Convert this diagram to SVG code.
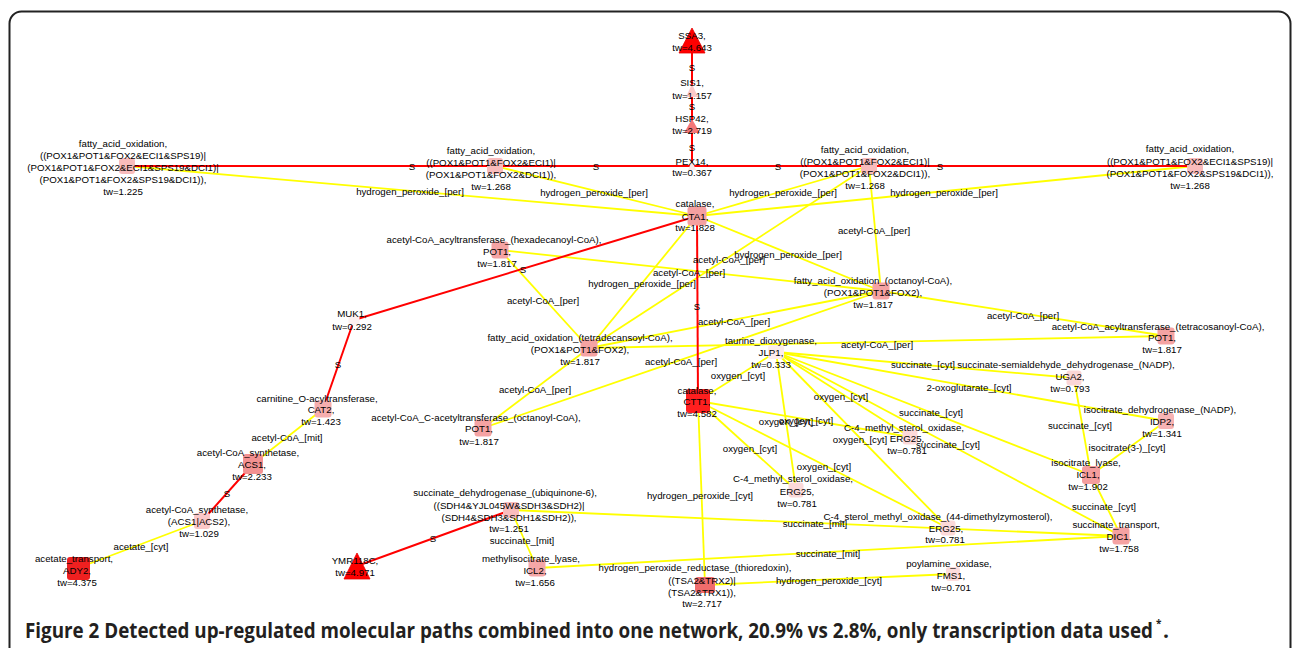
<svg xmlns="http://www.w3.org/2000/svg" width="1292" height="648" viewBox="0 0 1292 648">
<style>
.l{font-family:"Liberation Sans",Arial,sans-serif;font-size:9.7px;fill:#000;text-anchor:middle}
.ey{stroke:#ffff00;stroke-width:1.8;fill:none}
.er{stroke:#ff0000;stroke-width:2;fill:none}
.cap{font-family:"Open Sans","Noto Sans",sans-serif;font-weight:700;font-size:21px;fill:#231f20}
.sup{font-family:"Open Sans","Noto Sans",sans-serif;font-weight:700;font-size:10px;fill:#231f20}
</style>
<rect x="9.5" y="11.5" width="1281" height="720" rx="12" fill="#fff" stroke="#222" stroke-width="2"/>
<g id="connectors">
<g class="ey">
<line x1="127" y1="166" x2="697" y2="216"/>
<line x1="495" y1="166" x2="697" y2="216"/>
<line x1="697" y1="216" x2="869" y2="166"/>
<line x1="697" y1="216" x2="1195" y2="166"/>
<line x1="869" y1="166" x2="881" y2="291"/>
<line x1="697" y1="216" x2="881" y2="291"/>
<line x1="869" y1="166" x2="589" y2="348"/>
<line x1="500" y1="250" x2="881" y2="291"/>
<line x1="697" y1="216" x2="589" y2="348"/>
<line x1="500" y1="250" x2="589" y2="348"/>
<line x1="589" y1="348" x2="881" y2="291"/>
<line x1="881" y1="291" x2="1166" y2="336"/>
<line x1="589" y1="348" x2="1166" y2="336"/>
<line x1="483" y1="428" x2="881" y2="291"/>
<line x1="483" y1="428" x2="589" y2="348"/>
<line x1="698" y1="401" x2="776" y2="352"/>
<line x1="776" y1="352" x2="1074" y2="378"/>
<line x1="776" y1="352" x2="1166" y2="421"/>
<line x1="776" y1="352" x2="910" y2="437"/>
<line x1="776" y1="352" x2="1091" y2="475"/>
<line x1="776" y1="352" x2="796" y2="490"/>
<line x1="698" y1="401" x2="910" y2="437"/>
<line x1="776" y1="352" x2="948" y2="528"/>
<line x1="776" y1="352" x2="1121" y2="536"/>
<line x1="698" y1="401" x2="796" y2="490"/>
<line x1="698" y1="401" x2="948" y2="528"/>
<line x1="1074" y1="378" x2="1091" y2="475"/>
<line x1="1166" y1="421" x2="1091" y2="475"/>
<line x1="1091" y1="475" x2="1121" y2="536"/>
<line x1="698" y1="401" x2="705" y2="585"/>
<line x1="511" y1="510" x2="1121" y2="536"/>
<line x1="511" y1="510" x2="537" y2="568"/>
<line x1="537" y1="568" x2="1121" y2="536"/>
<line x1="705" y1="585" x2="953" y2="574"/>
<line x1="323" y1="409" x2="253" y2="464"/>
<line x1="202" y1="521" x2="78" y2="568"/>
</g>
<g class="er">
<line x1="127" y1="166" x2="692" y2="166"/>
<line x1="495" y1="166" x2="692" y2="166"/>
<line x1="692" y1="166" x2="869" y2="166"/>
<line x1="692" y1="166" x2="1195" y2="166"/>
<line x1="692" y1="41" x2="692" y2="90"/>
<line x1="692" y1="90" x2="692" y2="126"/>
<line x1="692" y1="126" x2="692" y2="166"/>
<line x1="697" y1="216" x2="698" y2="401"/>
<line x1="697" y1="216" x2="354" y2="320"/>
<line x1="354" y1="320" x2="323" y2="409"/>
<line x1="253" y1="464" x2="202" y2="521"/>
<line x1="357" y1="566" x2="511" y2="510"/>
</g>
<g class="l">
<text x="412" y="169.5">S</text><text x="596" y="169.5">S</text><text x="778" y="169.5">S</text><text x="940" y="169.5">S</text>
<text x="692" y="70.5">S</text><text x="692" y="109.5">S</text><text x="692" y="150.5">S</text>
<text x="697" y="309.5">S</text><text x="523" y="272.5">S</text><text x="338" y="367.5">S</text>
<text x="227" y="496.5">S</text><text x="433" y="541.5">S</text>
<text x="410" y="194.5">hydrogen_peroxide_[per]</text>
<text x="594" y="195.5">hydrogen_peroxide_[per]</text>
<text x="783" y="195.5">hydrogen_peroxide_[per]</text>
<text x="944" y="195.5">hydrogen_peroxide_[per]</text>
<text x="874" y="233.5">acetyl-CoA_[per]</text>
<text x="788" y="257.5">hydrogen_peroxide_[per]</text>
<text x="729" y="262.5">acetyl-CoA_[per]</text>
<text x="689" y="275.5">acetyl-CoA_[per]</text>
<text x="642" y="286.5">hydrogen_peroxide_[per]</text>
<text x="543" y="303.5">acetyl-CoA_[per]</text>
<text x="734" y="324.5">acetyl-CoA_[per]</text>
<text x="1023" y="318.5">acetyl-CoA_[per]</text>
<text x="877" y="347.5">acetyl-CoA_[per]</text>
<text x="681" y="364.5">acetyl-CoA_[per]</text>
<text x="535" y="392.5">acetyl-CoA_[per]</text>
<text x="738" y="378.5">oxygen_[cyt]</text>
<text x="923" y="367.5">succinate_[cyt]</text>
<text x="969" y="390.5">2-oxoglutarate_[cyt]</text>
<text x="841" y="399.5">oxygen_[cyt]</text>
<text x="931" y="415.5">succinate_[cyt]</text>
<text x="786" y="424.5">oxygen_[cyt]</text>
<text x="806" y="423.5">oxygen_[cyt]</text>
<text x="860" y="442.5">oxygen_[cyt]</text>
<text x="948" y="447.5">succinate_[cyt]</text>
<text x="750" y="451.5">oxygen_[cyt]</text>
<text x="824" y="469.5">oxygen_[cyt]</text>
<text x="1080" y="428.5">succinate_[cyt]</text>
<text x="1127" y="450.5">isocitrate(3-)_[cyt]</text>
<text x="1104" y="509.5">succinate_[cyt]</text>
<text x="700" y="498.5">hydrogen_peroxide_[cyt]</text>
<text x="815" y="526.5">succinate_[mit]</text>
<text x="522" y="543.5">succinate_[mit]</text>
<text x="828" y="556.5">succinate_[mit]</text>
<text x="829" y="583.5">hydrogen_peroxide_[cyt]</text>
<text x="287" y="440.5">acetyl-CoA_[mit]</text>
<text x="141" y="549.5">acetate_[cyt]</text>
</g>
</g>
<g id="n_fao1"><rect x="119" y="158" width="16" height="16" rx="3" fill="#f9bcbc"/><text class="l"><tspan x="123" y="146.5">fatty_acid_oxidation,</tspan><tspan x="123" y="158.5">((POX1&amp;POT1&amp;FOX2&amp;ECI1&amp;SPS19)|</tspan><tspan x="123" y="170.5">(POX1&amp;POT1&amp;FOX2&amp;ECI1&amp;SPS19&amp;DCI1)|</tspan><tspan x="123" y="182.5">(POX1&amp;POT1&amp;FOX2&amp;SPS19&amp;DCI1)),</tspan><tspan x="123" y="194.5">tw=1.225</tspan></text></g>
<g id="n_fao2"><rect x="487" y="158" width="16" height="16" rx="3" fill="#f9bcbc"/><text class="l"><tspan x="491" y="153.5">fatty_acid_oxidation,</tspan><tspan x="491" y="165.5">((POX1&amp;POT1&amp;FOX2&amp;ECI1)|</tspan><tspan x="491" y="177.5">(POX1&amp;POT1&amp;FOX2&amp;DCI1)),</tspan><tspan x="491" y="189.5">tw=1.268</tspan></text></g>
<g id="n_fao4"><rect x="861" y="158" width="16" height="16" rx="3" fill="#f9bcbc"/><text class="l"><tspan x="865" y="153">fatty_acid_oxidation,</tspan><tspan x="865" y="165">((POX1&amp;POT1&amp;FOX2&amp;ECI1)|</tspan><tspan x="865" y="177">(POX1&amp;POT1&amp;FOX2&amp;DCI1)),</tspan><tspan x="865" y="189">tw=1.268</tspan></text></g>
<g id="n_fao5"><rect x="1187" y="158" width="16" height="16" rx="3" fill="#f9bcbc"/><text class="l"><tspan x="1190" y="152">fatty_acid_oxidation,</tspan><tspan x="1190" y="164.5">((POX1&amp;POT1&amp;FOX2&amp;ECI1&amp;SPS19)|</tspan><tspan x="1190" y="176.5">(POX1&amp;POT1&amp;FOX2&amp;SPS19&amp;DCI1)),</tspan><tspan x="1190" y="188.5">tw=1.268</tspan></text></g>
<g id="n_ssa3"><polygon points="692,28 679,53 705,53" fill="#ff0000" stroke="#e60000" stroke-width="0.8"/><text class="l"><tspan x="692" y="38.5">SSA3,</tspan><tspan x="692" y="50.5">tw=4.643</tspan></text></g>
<g id="n_sis1"><polygon points="692,84 686,97 698,97" fill="#fbc9c9"/><text class="l"><tspan x="692" y="85.5">SIS1,</tspan><tspan x="692" y="98.5">tw=1.157</tspan></text></g>
<g id="n_hsp42"><polygon points="692,119 684,133 700,133" fill="#f47777"/><text class="l"><tspan x="692" y="121.5">HSP42,</tspan><tspan x="692" y="133.5">tw=2.719</tspan></text></g>
<g id="n_pex14"><polygon points="692,161 688,170 696,170" fill="#fde8e8"/><text class="l"><tspan x="692" y="164.5">PEX14,</tspan><tspan x="692" y="175.5">tw=0.367</tspan></text></g>
<g id="n_cta1"><rect x="687.5" y="206.5" width="19" height="19" rx="3" fill="#f5a0a0"/><text class="l"><tspan x="695" y="207">catalase,</tspan><tspan x="695" y="219.5">CTA1,</tspan><tspan x="695" y="231">tw=1.828</tspan></text></g>
<g id="n_pot1_hexa"><rect x="491.5" y="241.5" width="17" height="17" rx="3" fill="#f5a3a3"/><text class="l"><tspan x="494" y="242.5">acetyl-CoA_acyltransferase_(hexadecanoyl-CoA),</tspan><tspan x="497" y="254.5">POT1,</tspan><tspan x="497" y="266.5">tw=1.817</tspan></text></g>
<g id="n_fao_oct"><rect x="872.5" y="282.5" width="17" height="17" rx="3" fill="#f5a3a3"/><text class="l"><tspan x="873" y="283.5">fatty_acid_oxidation_(octanoyl-CoA),</tspan><tspan x="873" y="295.5">(POX1&amp;POT1&amp;FOX2),</tspan><tspan x="873" y="307.5">tw=1.817</tspan></text></g>
<g id="n_muk1"><rect x="348.5" y="314.5" width="11" height="11" rx="4" fill="#fdf0f0"/><text class="l"><tspan x="352" y="317">MUK1,</tspan><tspan x="352" y="329.5">tw=0.292</tspan></text></g>
<g id="n_fao_tetra"><rect x="580.5" y="339.5" width="17" height="17" rx="3" fill="#f5a3a3"/><text class="l"><tspan x="580" y="340.5">fatty_acid_oxidation_(tetradecansoyl-CoA),</tspan><tspan x="580" y="352.5">(POX1&amp;POT1&amp;FOX2),</tspan><tspan x="580" y="364.5">tw=1.817</tspan></text></g>
<g id="n_pot1_tetracos"><rect x="1157.5" y="327.5" width="17" height="17" rx="3" fill="#f5a3a3"/><text class="l"><tspan x="1158" y="329.5">acetyl-CoA_acyltransferase_(tetracosanoyl-CoA),</tspan><tspan x="1162" y="341">POT1,</tspan><tspan x="1162" y="353">tw=1.817</tspan></text></g>
<g id="n_jlp1"><rect x="768" y="345" width="16" height="14" rx="3" fill="#fcecec"/><text class="l"><tspan x="771" y="343.5">taurine_dioxygenase,</tspan><tspan x="771" y="355.5">JLP1,</tspan><tspan x="771" y="367.5">tw=0.333</tspan></text></g>
<g id="n_uga2"><rect x="1066.5" y="370.5" width="15" height="15" rx="3" fill="#fbd6d6"/><text class="l"><tspan x="1066" y="367.5">succinate-semialdehyde_dehydrogenase_(NADP),</tspan><tspan x="1070" y="379.5">UGA2,</tspan><tspan x="1070" y="391.5">tw=0.793</tspan></text></g>
<g id="n_ctt1"><rect x="686" y="389" width="24" height="24" rx="3" fill="#ff1f1f"/><text class="l"><tspan x="697" y="393.5">catalase,</tspan><tspan x="697" y="404.5">CTT1,</tspan><tspan x="697" y="416.5">tw=4.582</tspan></text></g>
<g id="n_cat2"><rect x="314.5" y="400.5" width="17" height="17" rx="3" fill="#f6aeae"/><text class="l"><tspan x="317" y="401.5">carnitine_O-acyltransferase,</tspan><tspan x="321" y="413">CAT2,</tspan><tspan x="321" y="425">tw=1.423</tspan></text></g>
<g id="n_pot1_oct"><rect x="474.5" y="419.5" width="17" height="17" rx="3" fill="#f5a3a3"/><text class="l"><tspan x="476" y="420.5">acetyl-CoA_C-acetyltransferase_(octanoyl-CoA),</tspan><tspan x="479" y="432">POT1,</tspan><tspan x="479" y="444.5">tw=1.817</tspan></text></g>
<g id="n_idp2"><rect x="1158" y="413" width="16" height="16" rx="3" fill="#f7b4b4"/><text class="l"><tspan x="1160" y="412.5">isocitrate_dehydrogenase_(NADP),</tspan><tspan x="1162" y="424.5">IDP2,</tspan><tspan x="1162" y="436.5">tw=1.341</tspan></text></g>
<g id="n_erg25a"><rect x="902.5" y="429.5" width="15" height="15" rx="3" fill="#fcd9d9"/><text class="l"><tspan x="904" y="430.5">C-4_methyl_sterol_oxidase,</tspan><tspan x="907" y="441.5">ERG25,</tspan><tspan x="907" y="453.5">tw=0.781</tspan></text></g>
<g id="n_acs1"><rect x="243" y="454" width="20" height="20" rx="3" fill="#f39191"/><text class="l"><tspan x="248" y="455.5">acetyl-CoA_synthetase,</tspan><tspan x="252" y="467.5">ACS1,</tspan><tspan x="252" y="479.5">tw=2.233</tspan></text></g>
<g id="n_icl1"><rect x="1082" y="466" width="18" height="18" rx="3" fill="#f59d9d"/><text class="l"><tspan x="1086" y="465.5">isocitrate_lyase,</tspan><tspan x="1088" y="477.5">ICL1,</tspan><tspan x="1088" y="489.5">tw=1.902</tspan></text></g>
<g id="n_erg25b"><rect x="788.5" y="482.5" width="15" height="15" rx="3" fill="#fcd9d9"/><text class="l"><tspan x="793" y="482">C-4_methyl_sterol_oxidase,</tspan><tspan x="797" y="494.5">ERG25,</tspan><tspan x="797" y="506.5">tw=0.781</tspan></text></g>
<g id="n_sdh"><rect x="503" y="502" width="16" height="16" rx="3" fill="#f9bcbc"/><text class="l"><tspan x="505" y="495.5">succinate_dehydrogenase_(ubiquinone-6),</tspan><tspan x="509" y="508.5">((SDH4&amp;YJL045W&amp;SDH3&amp;SDH2)|</tspan><tspan x="509" y="520.5">(SDH4&amp;SDH3&amp;SDH1&amp;SDH2)),</tspan><tspan x="509" y="531.5">tw=1.251</tspan></text></g>
<g id="n_acs"><rect x="194" y="513" width="16" height="16" rx="3" fill="#fbc8c8"/><text class="l"><tspan x="197" y="512.5">acetyl-CoA_synthetase,</tspan><tspan x="199" y="524.5">(ACS1|ACS2),</tspan><tspan x="199" y="536.5">tw=1.029</tspan></text></g>
<g id="n_erg25c"><rect x="940.5" y="520.5" width="15" height="15" rx="3" fill="#fcd9d9"/><text class="l"><tspan x="938" y="519.5">C-4_sterol_methyl_oxidase_(44-dimethylzymosterol),</tspan><tspan x="946" y="531.5">ERG25,</tspan><tspan x="945" y="543">tw=0.781</tspan></text></g>
<g id="n_dic1"><rect x="1112.5" y="527.5" width="17" height="17" rx="3" fill="#f5a2a2"/><text class="l"><tspan x="1116" y="527.5">succinate_transport,</tspan><tspan x="1119" y="539.5">DIC1,</tspan><tspan x="1119" y="551.5">tw=1.758</tspan></text></g>
<g id="n_icl2"><rect x="528.5" y="559.5" width="17" height="17" rx="3" fill="#f5a7a7"/><text class="l"><tspan x="531" y="561.5">methylisocitrate_lyase,</tspan><tspan x="535" y="573.5">ICL2,</tspan><tspan x="535" y="585.5">tw=1.656</tspan></text></g>
<g id="n_ymr118c"><polygon points="357,553 344,579 370,579" fill="#ff0000" stroke="#e60000" stroke-width="0.8"/><text class="l"><tspan x="355" y="563.5">YMR118C,</tspan><tspan x="355" y="575.5">tw=4.971</tspan></text></g>
<g id="n_ady2"><rect x="67" y="557" width="23" height="23" rx="3" fill="#ef2020"/><text class="l"><tspan x="74" y="561.5">acetate_transport,</tspan><tspan x="77" y="573.5">ADY2,</tspan><tspan x="77" y="585.5">tw=4.375</tspan></text></g>
<g id="n_fms1"><rect x="946" y="567" width="14" height="14" rx="3" fill="#fcdcdc"/><text class="l"><tspan x="949" y="566.5">poylamine_oxidase,</tspan><tspan x="951" y="578.5">FMS1,</tspan><tspan x="951" y="590.5">tw=0.701</tspan></text></g>
<g id="n_tsa2"><rect x="695" y="577" width="20" height="16" rx="3" fill="#f06c6c"/><text class="l"><tspan x="695" y="570.5">hydrogen_peroxide_reductase_(thioredoxin),</tspan><tspan x="702" y="583.5">((TSA2&amp;TRX2)|</tspan><tspan x="702" y="595.5">(TSA2&amp;TRX1)),</tspan><tspan x="702" y="606.5">tw=2.717</tspan></text></g>
<g id="caption">
<text class="cap" x="25" y="638" textLength="1128" lengthAdjust="spacingAndGlyphs">Figure 2 Detected up-regulated molecular paths combined into one network, 20.9% vs 2.8%, only transcription data used</text>
<text class="sup" x="1156" y="627">*</text>
<text class="cap" x="1163" y="638">.</text>
</g>
</svg>
